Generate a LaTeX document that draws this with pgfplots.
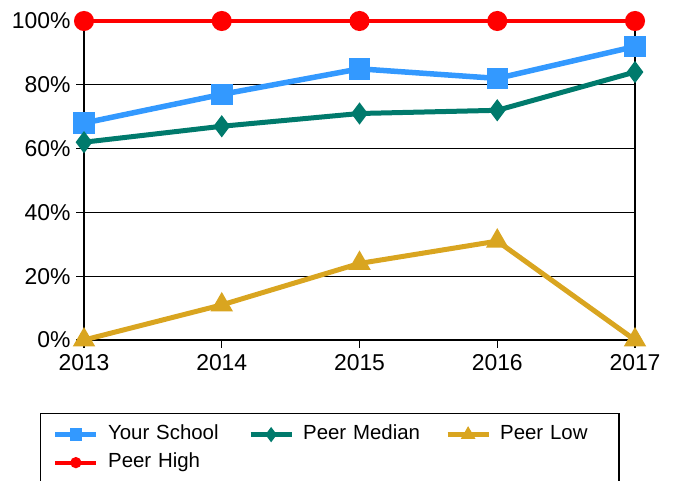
\documentclass[border=0pt]{standalone}
\usepackage{pgfplots}
\pgfplotsset{compat=1.18}
\usepackage{fontspec}
\setmainfont{Liberation Sans}
\definecolor{cblue}{HTML}{3399FF}
\definecolor{cteal}{HTML}{007A6C}
\definecolor{cgold}{HTML}{D9A520}
\definecolor{cred}{HTML}{FF0000}
\begin{document}
\begin{tikzpicture}[x=1bp,y=1bp]
\useasboundingbox (0,0) rectangle (678,481);
\begin{axis}[
  at={(84bp,141bp)}, anchor=south west,
  scale only axis, width=551bp, height=319bp,
  xmin=2013, xmax=2017, ymin=0, ymax=100,
  clip=false,
  axis line style={black, line width=1.3bp},
  ymajorgrids, grid style={black, line width=1.2bp},
  xtick={2013,2014,2015,2016,2017}, xticklabels={2013,2014,2015,2016,2017},
  ytick={0,20,40,60,80,100}, yticklabels={0\%,20\%,40\%,60\%,80\%,100\%},
  tick align=outside, major tick length=8bp,
  tick style={black, line width=1.2bp},
  xtick pos=bottom, ytick pos=left,
  ticklabel style={font=\fontsize{23}{26}\selectfont},
  xticklabel style={yshift=-3bp},
  yticklabel style={xshift=-2bp},
  legend columns=3,
  legend cell align=left,
  legend style={at={(axis description cs:-0.0799,-0.2288)}, anchor=north west,
    draw=black, line width=1.3bp,
    font=\fontsize{20.5}{24}\selectfont,
    inner xsep=12bp, inner ysep=11bp,
    row sep=8bp,
    nodes={inner sep=0pt, text height=15bp, text depth=5bp},
    /tikz/every odd column/.append style={column sep=9bp},
    /tikz/column 2/.style={text width=140bp},
    /tikz/column 4/.style={text width=142bp},
    /tikz/column 6/.style={text width=107bp},
  },
  legend image code/.code={\draw[mark repeat=2,mark phase=2,#1,mark size=3.5bp] plot coordinates {(0bp,0bp) (20.5bp,0bp) (41bp,0bp)};},
]
\addplot[cblue, line width=5.5bp, mark=square*, mark size=8bp, mark options={solid}]
  coordinates {(2013,68) (2014,77) (2015,85) (2016,82) (2017,92)};
\addlegendentry{Your School}
\addplot[cteal, line width=5bp, mark=diamond*, mark size=7bp, mark options={solid}]
  coordinates {(2013,62) (2014,67) (2015,71) (2016,72) (2017,84)};
\addlegendentry{Peer Median}
\addplot[cgold, line width=5bp, mark=triangle*, mark size=8bp, mark options={solid}]
  coordinates {(2013,0) (2014,11) (2015,24) (2016,31) (2017,0)};
\addlegendentry{Peer Low}
\addplot[cred, line width=4bp, mark=*, mark size=8bp, mark options={solid}]
  coordinates {(2013,100) (2014,100) (2015,100) (2016,100) (2017,100)};
\addlegendentry{Peer High}
\end{axis}
\end{tikzpicture}
\end{document}
